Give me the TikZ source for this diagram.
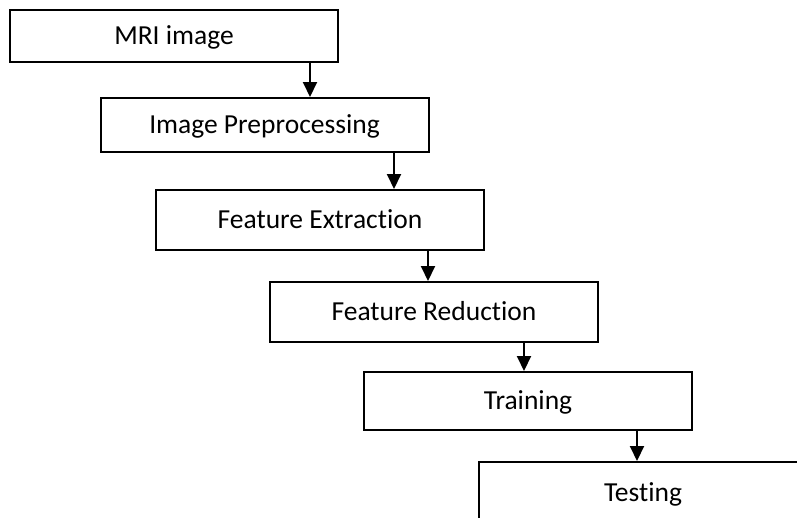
\documentclass[tikz,border=0pt]{standalone}
\usepackage{fontspec}
\setmainfont{Carlito}[Ligatures={NoCommon}]
\usetikzlibrary{arrows.meta}
\begin{document}
\begin{tikzpicture}[x=1pt,y=-1pt,
  stepbox/.style={draw=black,line width=2pt,fill=white,rectangle,inner sep=0pt,
    minimum width=328pt,text height=16pt,text depth=0pt,
    font=\fontsize{27.5}{31}\selectfont},
  arr/.style={line width=2pt,-{Triangle[width=14pt,length=15pt]}}]
\clip (0,0) rectangle (797,517);
\fill[white] (0,0) rectangle (797,517);
\node[stepbox,minimum height=52pt] (mri) at (174,36) {MRI image};
\node[stepbox,minimum height=54pt] (pre) at (264.5,125) {Image Preprocessing};
\node[stepbox,minimum height=60pt] (fe) at (320,220) {Feature Extraction};
\node[stepbox,minimum height=60pt] (fr) at (434,312) {Feature Reduction};
\node[stepbox,minimum height=58pt] (tr) at (528,401) {Training};
\node[stepbox,minimum height=62pt] (te) at (643,493) {Testing};
\coordinate (x1) at (310,0);
\coordinate (x2) at (394,0);
\coordinate (x3) at (428,0);
\coordinate (x4) at (524,0);
\coordinate (x5) at (637,0);
\draw[arr] (mri.south -| x1) -- (pre.north -| x1);
\draw[arr] (pre.south -| x2) -- (fe.north -| x2);
\draw[arr] (fe.south -| x3) -- (fr.north -| x3);
\draw[arr] (fr.south -| x4) -- (tr.north -| x4);
\draw[arr] (tr.south -| x5) -- (te.north -| x5);
\end{tikzpicture}
\end{document}
